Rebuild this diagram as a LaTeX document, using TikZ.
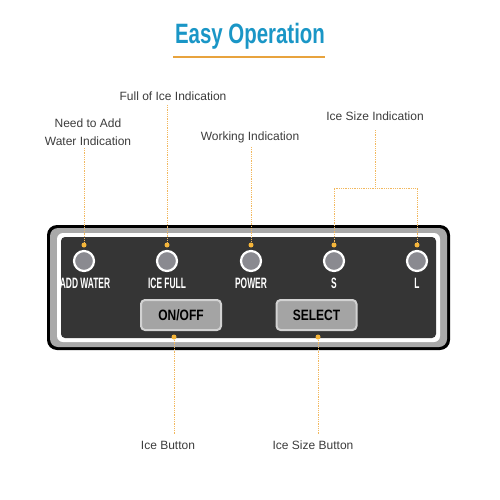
\documentclass[tikz,border=0pt]{standalone}
\usepackage{fontspec}
\setmainfont{Liberation Sans}
\newfontfamily\titlefont[FakeStretch=0.73]{Liberation Sans}
\newfontfamily\condfont[FakeStretch=0.56]{Liberation Sans}
\newfontfamily\btnfont[FakeStretch=0.8]{Liberation Sans}
\definecolor{titleblue}{HTML}{1A96C6}
\definecolor{orangeline}{HTML}{E8A33D}
\definecolor{odotc}{HTML}{F6B63A}
\definecolor{dotlinec}{HTML}{F2B85E}
\definecolor{paneldark}{HTML}{353535}
\definecolor{ringgray}{HTML}{A9A9A9}
\definecolor{indfill}{HTML}{8A8A90}
\definecolor{btnfill}{HTML}{A4A4A4}
\definecolor{btnedge}{HTML}{D2D2D2}
\definecolor{txtgray}{HTML}{3C3C3C}
\tikzset{
  lbl/.style={font=\fontsize{12}{18}\selectfont, text=txtgray, inner sep=0pt, align=center},
  odot/.style={circle, fill=odotc, minimum size=5pt, inner sep=0pt},
  dotline/.style={dotlinec, line width=1pt, dash pattern=on 1pt off 0.8pt},
  indicator/.style={circle, draw=white, line width=2.2pt, fill=indfill, minimum size=20pt, inner sep=0pt},
  plabel/.style={font=\condfont\bfseries\fontsize{15}{15}\selectfont, text=white, inner sep=0pt},
  btn/.style={draw=btnedge, line width=2pt, fill=btnfill, rounded corners=4pt, minimum width=80pt, minimum height=30pt, inner sep=0pt, font=\btnfont\bfseries\fontsize{15}{15}\selectfont, text=black}
}
\begin{document}
\begin{tikzpicture}[x=1pt,y=-1pt]
\useasboundingbox (0,0) rectangle (500,500);
% title
\node[font=\titlefont\bfseries\fontsize{28}{28}\selectfont, text=titleblue, inner sep=0pt] (title) at (250,36) {Easy Operation};
\draw[orangeline, line width=1.5pt] (173,57) -- (325,57);
% panel
\fill[black, rounded corners=10pt] (47,225) rectangle (450,350);
\fill[ringgray, rounded corners=8pt] (50,228) rectangle (447,347);
\fill[white, rounded corners=6pt] (57,233) rectangle (440,342);
\fill[paneldark, rounded corners=4pt] (61,237) rectangle (436,338);
% indicators
\node[indicator] (i1) at (84,261) {};
\node[indicator] (i2) at (167,261) {};
\node[indicator] (i3) at (251,261) {};
\node[indicator] (i4) at (334,261) {};
\node[indicator] (i5) at (417,261) {};
\node[plabel] (p1) at (85,283) {ADD WATER};
\node[plabel] (p2) at (167,283) {ICE FULL};
\node[plabel] (p3) at (251,283) {POWER};
\node[plabel] (p4) at (334,283) {S};
\node[plabel] (p5) at (417,283) {L};
% buttons
\node[btn] (onoff) at (181,315) {ON/OFF};
\node[btn] (select) at (316.5,315) {SELECT};
% dots
\node[odot] (d1) at (84,245) {};
\node[odot] (d2) at (167,245) {};
\node[odot] (d3) at (251,245) {};
\node[odot] (d4) at (334,245) {};
\node[odot] (d5) at (417,245) {};
\node[odot] (d6) at (174,337) {};
\node[odot] (d7) at (318,337) {};
% labels
\node[lbl] (l1) at (88,132) {Need to Add\\Water Indication};
\node[lbl] (l2) at (173,96) {Full of Ice Indication};
\node[lbl] (l3) at (250,137) {Working Indication};
\node[lbl] (l4) at (375,116) {Ice Size Indication};
\node[lbl] (l6) at (168,445) {Ice Button};
\node[lbl] (l7) at (313,445) {Ice Size Button};
\coordinate (j) at (375,188);
% connectors
\draw[dotline] (84,148) -- (d1);
\draw[dotline] (167,105) -- (d2);
\draw[dotline] (251,147) -- (d3);
\draw[dotline] (l4.south |- 0,130) -- (j);
\draw[dotline] (d4) |- (j) -| (d5);
\draw[dotline] (d6) -- (174,435);
\draw[dotline] (d7) -- (318,435);
\end{tikzpicture}
\end{document}
